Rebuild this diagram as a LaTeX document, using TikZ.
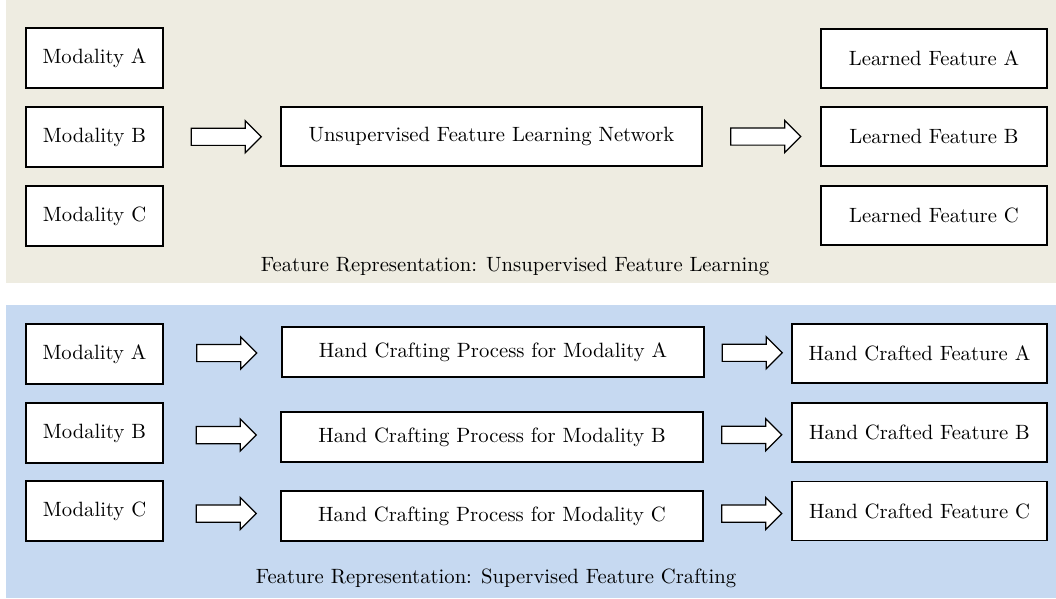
\documentclass[tikz,border=0pt]{standalone}
\usetikzlibrary{shapes.arrows,calc}
\definecolor{paneltan}{HTML}{EEECE1}
\definecolor{panelblue}{HTML}{C6D9F1}
\begin{document}
\begin{tikzpicture}[x=0.017cm,y=-0.017cm]
        \tikzstyle{modbox}=[rectangle,thick,draw=black,fill=white,inner sep=0pt,minimum width=2.329cm,minimum height=1.02cm]
        \tikzstyle{featbox}=[modbox,minimum width=3.842cm,minimum height=1.003cm]
        \tikzstyle{procbox}=[modbox,minimum width=7.174cm,minimum height=0.85cm]
        \tikzstyle{fatarrow}=[single arrow,semithick,draw=black,fill=white,inner xsep=0pt,inner ysep=0.136cm,minimum width=0.527cm,single arrow head extend=0.1275cm,minimum height=1.02cm]
        \useasboundingbox (0,0) rectangle (1056,598);
       % unsupervised feature learning
       \begin{scope}
        \fill [paneltan] (6,0) rectangle (1056,283);
        \node [modbox] (ma1) at (94.5,58) {Modality A};
        \node [modbox] (mb1) at (94.5,137) {Modality B};
        \node [modbox] (mc1) at (94.5,216) {Modality C};
        \node [modbox,minimum width=7.157cm,minimum height=1.003cm] (ufl) at (491.5,136.5) {Unsupervised Feature Learning Network};
        \node [featbox] (lfa) at (934,58.5) {Learned Feature A};
        \node [featbox] (lfb) at (934,136.5) {Learned Feature B};
        \node [featbox] (lfc) at (934,215.5) {Learned Feature C};

        \node [fatarrow,minimum height=1.19cm] (ua1) at ($(mb1.east)!0.5!(ufl.west)$) {};
        \node [fatarrow,minimum height=1.19cm] (ua2) at ($(ufl.east)!0.5!(lfb.west)$) {};

        \node (ucap) at (515,266) {Feature Representation: Unsupervised Feature Learning};
       \end{scope}

       % supervised feature crafting
       \begin{scope}
        \fill [panelblue] (6,305) rectangle (1056,598);
        \node [modbox] (ma2) at (94.5,354) {Modality A};
        \node [modbox] (mb2) at (94.5,433) {Modality B};
        \node [modbox] (mc2) at (94.5,511) {Modality C};
        \node [procbox] (hpa) at (493,352) {Hand Crafting Process for Modality A};
        \node [procbox] (hpb) at (492,437) {Hand Crafting Process for Modality B};
        \node [procbox] (hpc) at (492,516) {Hand Crafting Process for Modality C};
        \node [featbox,minimum width=4.335cm] (hfa) at (919.5,353.5) {Hand Crafted Feature A};
        \node [featbox,minimum width=4.335cm] (hfb) at (919.5,432.5) {Hand Crafted Feature B};
        \node [featbox,minimum width=4.335cm] (hfc) at (919.5,511) {Hand Crafted Feature C};

        \node [fatarrow] (sa1) at ($(ma2.east)!0.5!(hpa.west)$) {};
        \node [fatarrow] (sa2) at ($(mb2.east)!0.5!(hpb.west)$) {};
        \node [fatarrow] (sa3) at ($(mc2.east)!0.5!(hpc.west)$) {};
        \node [fatarrow] (sa4) at ($(hpa.east)!0.5!(hfa.west)$) {};
        \node [fatarrow] (sa5) at ($(hpb.east)!0.5!(hfb.west)$) {};
        \node [fatarrow] (sa6) at ($(hpc.east)!0.5!(hfc.west)$) {};

        \node (scap) at (496,578) {Feature Representation: Supervised Feature Crafting};
       \end{scope}
\end{tikzpicture}
\end{document}
